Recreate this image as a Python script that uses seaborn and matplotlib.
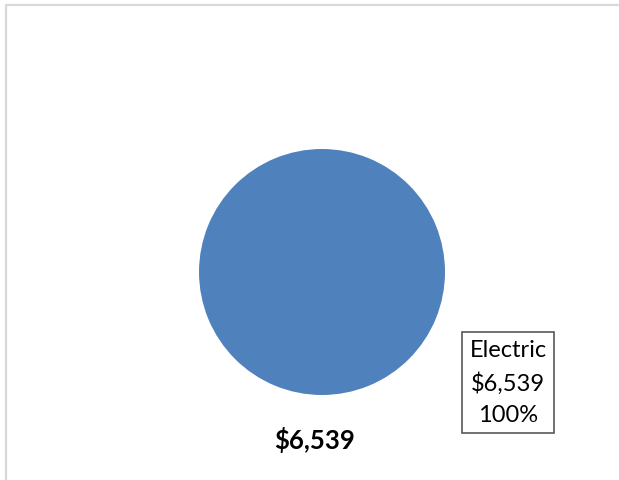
import matplotlib
matplotlib.use("Agg")
import matplotlib.pyplot as plt
import seaborn as sns
from matplotlib.lines import Line2D

categories = ["Electric"]
values = [6539]
total_label = "$6,539"

sns.set_theme(style="white")
plt.rcParams['font.family'] = ['Lato', 'DejaVu Sans']

W, H = 619, 481
fig = plt.figure(figsize=(W / 100, H / 100), dpi=100)
fig.patch.set_facecolor("white")

cx, cy, r = 322, 273, 123
ax = fig.add_axes([(cx - r) / W, (H - cy - r) / H, 2 * r / W, 2 * r / H])
ax.set_xlim(-1, 1)
ax.set_ylim(-1, 1)
ax.axis("off")

colors = ["#4F81BD"]
ax.pie(values, colors=colors, radius=1, startangle=90, counterclock=False,
       wedgeprops=dict(linewidth=0))
ax.set_xlim(-1, 1)
ax.set_ylim(-1, 1)

total = sum(values)
for cat, v in zip(categories, values):
    txt = f"{cat}\n${v:,.0f}\n{v / total:.0%}"
    ax.text(1.512, -0.898, txt, ha="center", va="center", fontsize=17,
            linespacing=1.6, multialignment="center", color="black",
            clip_on=False,
            bbox=dict(boxstyle="square,pad=0.3", facecolor="white",
                      edgecolor="#595959", linewidth=1.2))

ax.text(-0.057, -1.36, total_label, ha="center", va="center", fontsize=18.5,
        fontweight="bold", color="black", clip_on=False)

# chart frame lines
fig.add_artist(Line2D([6 / W, 1], [1 - 6 / H, 1 - 6 / H], color="#D9D9D9",
                      linewidth=1.6, transform=fig.transFigure))
fig.add_artist(Line2D([6 / W, 6 / W], [0, 1 - 6 / H], color="#D9D9D9",
                      linewidth=1.6, transform=fig.transFigure))

fig.savefig("out.png", dpi=100, facecolor="white")
